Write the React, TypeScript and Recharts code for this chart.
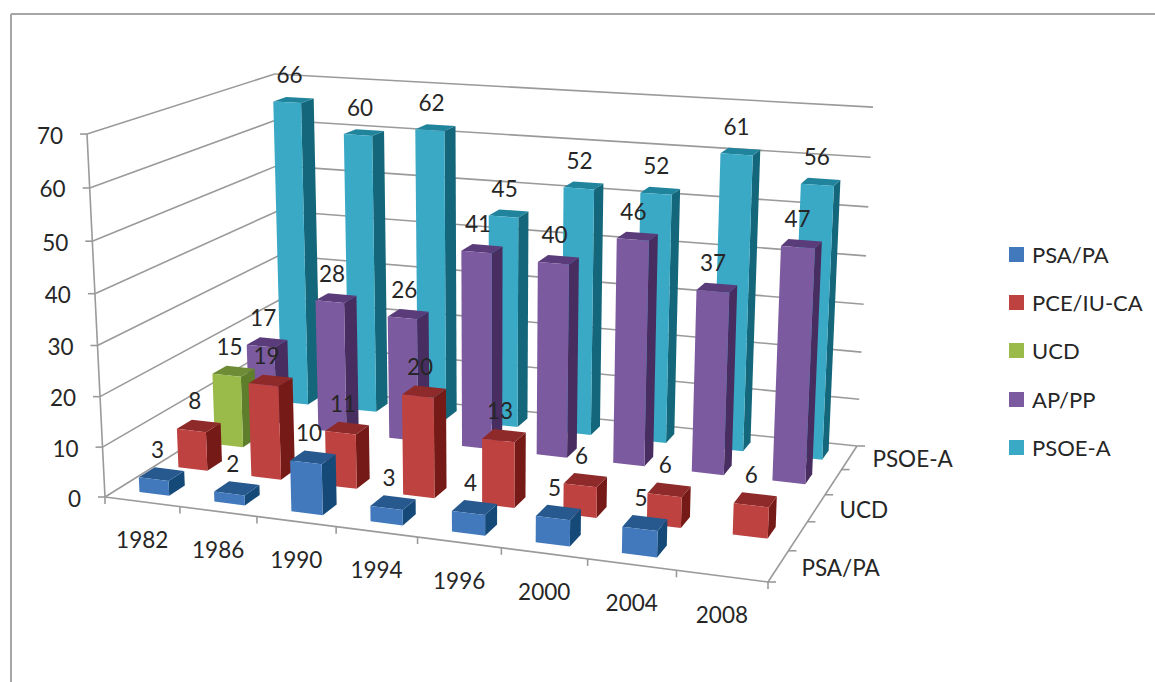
import React from 'react';
import { ScatterChart, Scatter, XAxis, YAxis, ReferenceLine, Legend } from 'recharts';

const categories = ['1982', '1986', '1990', '1994', '1996', '2000', '2004', '2008'];
const valueTicks = [0, 10, 20, 30, 40, 50, 60, 70];
const psaPa = [3, 2, 10, 3, 4, 5, 5, null];
const pceIu = [8, 19, 11, 20, 13, 6, 6, 6];
const ucd = [15, null, null, null, null, null, null, null];
const apPp = [17, 28, 26, 41, 40, 46, 37, 47];
const psoeA = [66, 60, 62, 45, 52, 52, 61, 56];
const depthLabels: [string, number][] = [['PSA/PA', 0], ['UCD', 2], ['PSOE-A', 4]];

const FONT = 'Lato, sans-serif';
const TEXT = '#262626';
const GRID = '#9a9a9a';
const W = 1155, H = 682, VMAX = 70;

const seriesDefs = [
  { name: 'PSA/PA', depth: 0, values: psaPa, front: '#4179BC', top: '#27598F', side: '#154A78' },
  { name: 'PCE/IU-CA', depth: 1, values: pceIu, front: '#BE4240', top: '#8E2A2A', side: '#751A16' },
  { name: 'UCD', depth: 2, values: ucd, front: '#9ABB49', top: '#6E8B36', side: '#5E7E2C' },
  { name: 'AP/PP', depth: 3, values: apPp, front: '#7C5A9F', top: '#5A3C7A', side: '#472D60' },
  { name: 'PSOE-A', depth: 4, values: psoeA, front: '#3AA9C6', top: '#20849C', side: '#14677B' },
];

type P = [number, number];
// camera: floor quad, vertical vanishing point and the weight of full height
const floorQuad: P[] = [[105, 497], [768, 582], [857, 446], [283, 386]];
const vanish: P = [489, 8241];
const heightWeight = -0.04477;

const [[x0, y0], [x1, y1], [x2, y2], [x3, y3]] = floorQuad;
const dx1 = x1 - x2, dx2 = x3 - x2, sx = x0 - x1 + x2 - x3;
const dy1 = y1 - y2, dy2 = y3 - y2, sy = y0 - y1 + y2 - y3;
const den = dx1 * dy2 - dx2 * dy1;
const hg = (sx * dy2 - dx2 * sy) / den;
const hh = (dx1 * sy - sx * dy1) / den;
const ha = x1 - x0 + hg * x1, hb = x3 - x0 + hh * x3;
const hd = y1 - y0 + hg * y1, he = y3 - y0 + hh * y3;

function project(u: number, v: number, value: number): P {
  const k = (value / VMAX) * heightWeight * (1 - 0.01 * u);
  const w = hg * u + hh * v + 1 + k;
  return [
    (ha * u + hb * v + x0 + k * vanish[0]) / w,
    (hd * u + he * v + y0 + k * vanish[1]) / w,
  ];
}

const nCat = categories.length, nDepth = seriesDefs.length;
const GAP = 0.3;

function barPoints(def: typeof seriesDefs[number]) {
  return def.values.flatMap((value, c) => {
    if (value == null) return [];
    const u0 = (c + GAP) / nCat, u1 = (c + 1 - GAP) / nCat;
    const v0 = (def.depth + GAP) / nDepth, v1 = (def.depth + 1 - GAP) / nDepth;
    const [x, y] = project(u0, v0, 0);
    const rel = (u: number, v: number, h: number): P => {
      const p = project(u, v, h);
      return [p[0] - x, p[1] - y];
    };
    return [{
      x, y,
      frontFace: [rel(u0, v0, 0), rel(u1, v0, 0), rel(u1, v0, value), rel(u0, v0, value)],
      sideFace: [rel(u1, v0, 0), rel(u1, v1, 0), rel(u1, v1, value), rel(u1, v0, value)],
      topFace: [rel(u0, v0, value), rel(u1, v0, value), rel(u1, v1, value), rel(u0, v1, value)],
    }];
  });
}

const poly = (pts: P[], cx: number, cy: number) => pts.map(p => `${cx + p[0]},${cy + p[1]}`).join(' ');

const barShape = (def: typeof seriesDefs[number]) => (props: any) => {
  const { cx, cy, payload } = props;
  return (
    <g>
      <polygon points={poly(payload.sideFace, cx, cy)} fill={def.side} />
      <polygon points={poly(payload.topFace, cx, cy)} fill={def.top} />
      <polygon points={poly(payload.frontFace, cx, cy)} fill={def.front} />
    </g>
  );
};

const textShape = (props: any) => {
  const { cx, cy, payload } = props;
  return (
    <text x={cx} y={cy} textAnchor={payload.anchor} dominantBaseline="central"
      fontFamily={FONT} fontSize={22.5} fill={TEXT}>{payload.text}</text>
  );
};

const valueLabels = seriesDefs.flatMap(def => def.values.flatMap((value, c) => {
  if (value == null) return [];
  const [px, py] = project((c + 0.5) / nCat, (def.depth + 0.5) / nDepth, value);
  return [{ x: px - 4, y: py - 25, text: String(value), anchor: 'middle' }];
}));

const axisLabels = [
  ...valueTicks.map(t => {
    const [px, py] = project(0, 0, t);
    return { x: px - 24, y: py + 1, text: String(t), anchor: 'end' };
  }),
  ...categories.map((cat, c) => {
    const [px, py] = project((c + 0.5) / nCat, 0, 0);
    return { x: px, y: py + 38, text: cat, anchor: 'middle' };
  }),
  ...depthLabels.map(([label, d]) => {
    const [px, py] = project(1, (d + 0.5) / nDepth, 0);
    return { x: px + 23, y: py + 1, text: label, anchor: 'start' };
  }),
];

type Seg = [P, P];
const gridSegs: Seg[] = [
  ...valueTicks.flatMap(t => [
    [project(0, 0, t), project(0, 1, t)] as Seg,
    [project(0, 1, t), project(1, 1, t)] as Seg,
    [[project(0, 0, t)[0] - 7, project(0, 0, t)[1]], project(0, 0, t)] as Seg,
  ]),
  [project(0, 0, 0), project(0, 0, VMAX)],
  [project(0, 0, 0), project(1, 0, 0)],
  [project(1, 0, 0), project(1, 1, 0)],
  ...categories.concat(['']).map((_, c): Seg => {
    const p = project(c / nCat, 0, 0);
    return [p, [p[0], p[1] + 7]];
  }),
  ...seriesDefs.concat(seriesDefs[0]).map((_, d): Seg => {
    const p = project(1, d / nDepth, 0);
    return [p, [p[0] + 8, p[1]]];
  }),
];
const frameSegs: Seg[] = [[[11, 14], [W, 14]], [[11, 14], [11, H]]];

const LegendBox = ({ payload }: any) => (
  <div>
    {seriesDefs.map(def => (payload || []).find((it: any) => it.value === def.name)).filter(Boolean).map((item: any) => (
      <div key={item.value} style={{ display: 'flex', alignItems: 'center', height: 48.3 }}>
        <span style={{ width: 15, height: 15, background: item.color, marginRight: 8, display: 'inline-block' }} />
        <span style={{ fontFamily: FONT, fontSize: 22, color: TEXT, whiteSpace: 'nowrap' }}>{item.value}</span>
      </div>
    ))}
  </div>
);

export default function App() {
  return (
    <div style={{ position: 'absolute', left: 0, top: 0, width: W, height: H, background: '#fff' }}>
      <ScatterChart width={W} height={H} margin={{ top: 0, right: 0, bottom: 0, left: 0 }}>
        <XAxis type="number" dataKey="x" domain={[0, W]} hide />
        <YAxis type="number" dataKey="y" domain={[0, H]} reversed hide />
        {frameSegs.map((s, i) => (
          <ReferenceLine key={`f${i}`} segment={[{ x: s[0][0], y: s[0][1] }, { x: s[1][0], y: s[1][1] }]}
            stroke="#a6a6a6" strokeWidth={2} />
        ))}
        {gridSegs.map((s, i) => (
          <ReferenceLine key={`g${i}`} segment={[{ x: s[0][0], y: s[0][1] }, { x: s[1][0], y: s[1][1] }]}
            stroke={GRID} strokeWidth={1.6} />
        ))}
        {[...seriesDefs].reverse().map(def => (
          <Scatter key={def.name} name={def.name} data={barPoints(def)} fill={def.front}
            shape={barShape(def)} isAnimationActive={false} />
        ))}
        <Scatter data={axisLabels} shape={textShape} legendType="none" isAnimationActive={false} />
        <Scatter data={valueLabels} shape={textShape} legendType="none" isAnimationActive={false} />
        <Legend layout="vertical" align="center" verticalAlign="middle" content={<LegendBox />}
          wrapperStyle={{ position: 'absolute', left: 1009, top: 230, width: 146, height: 242 }} />
      </ScatterChart>
    </div>
  );
}
